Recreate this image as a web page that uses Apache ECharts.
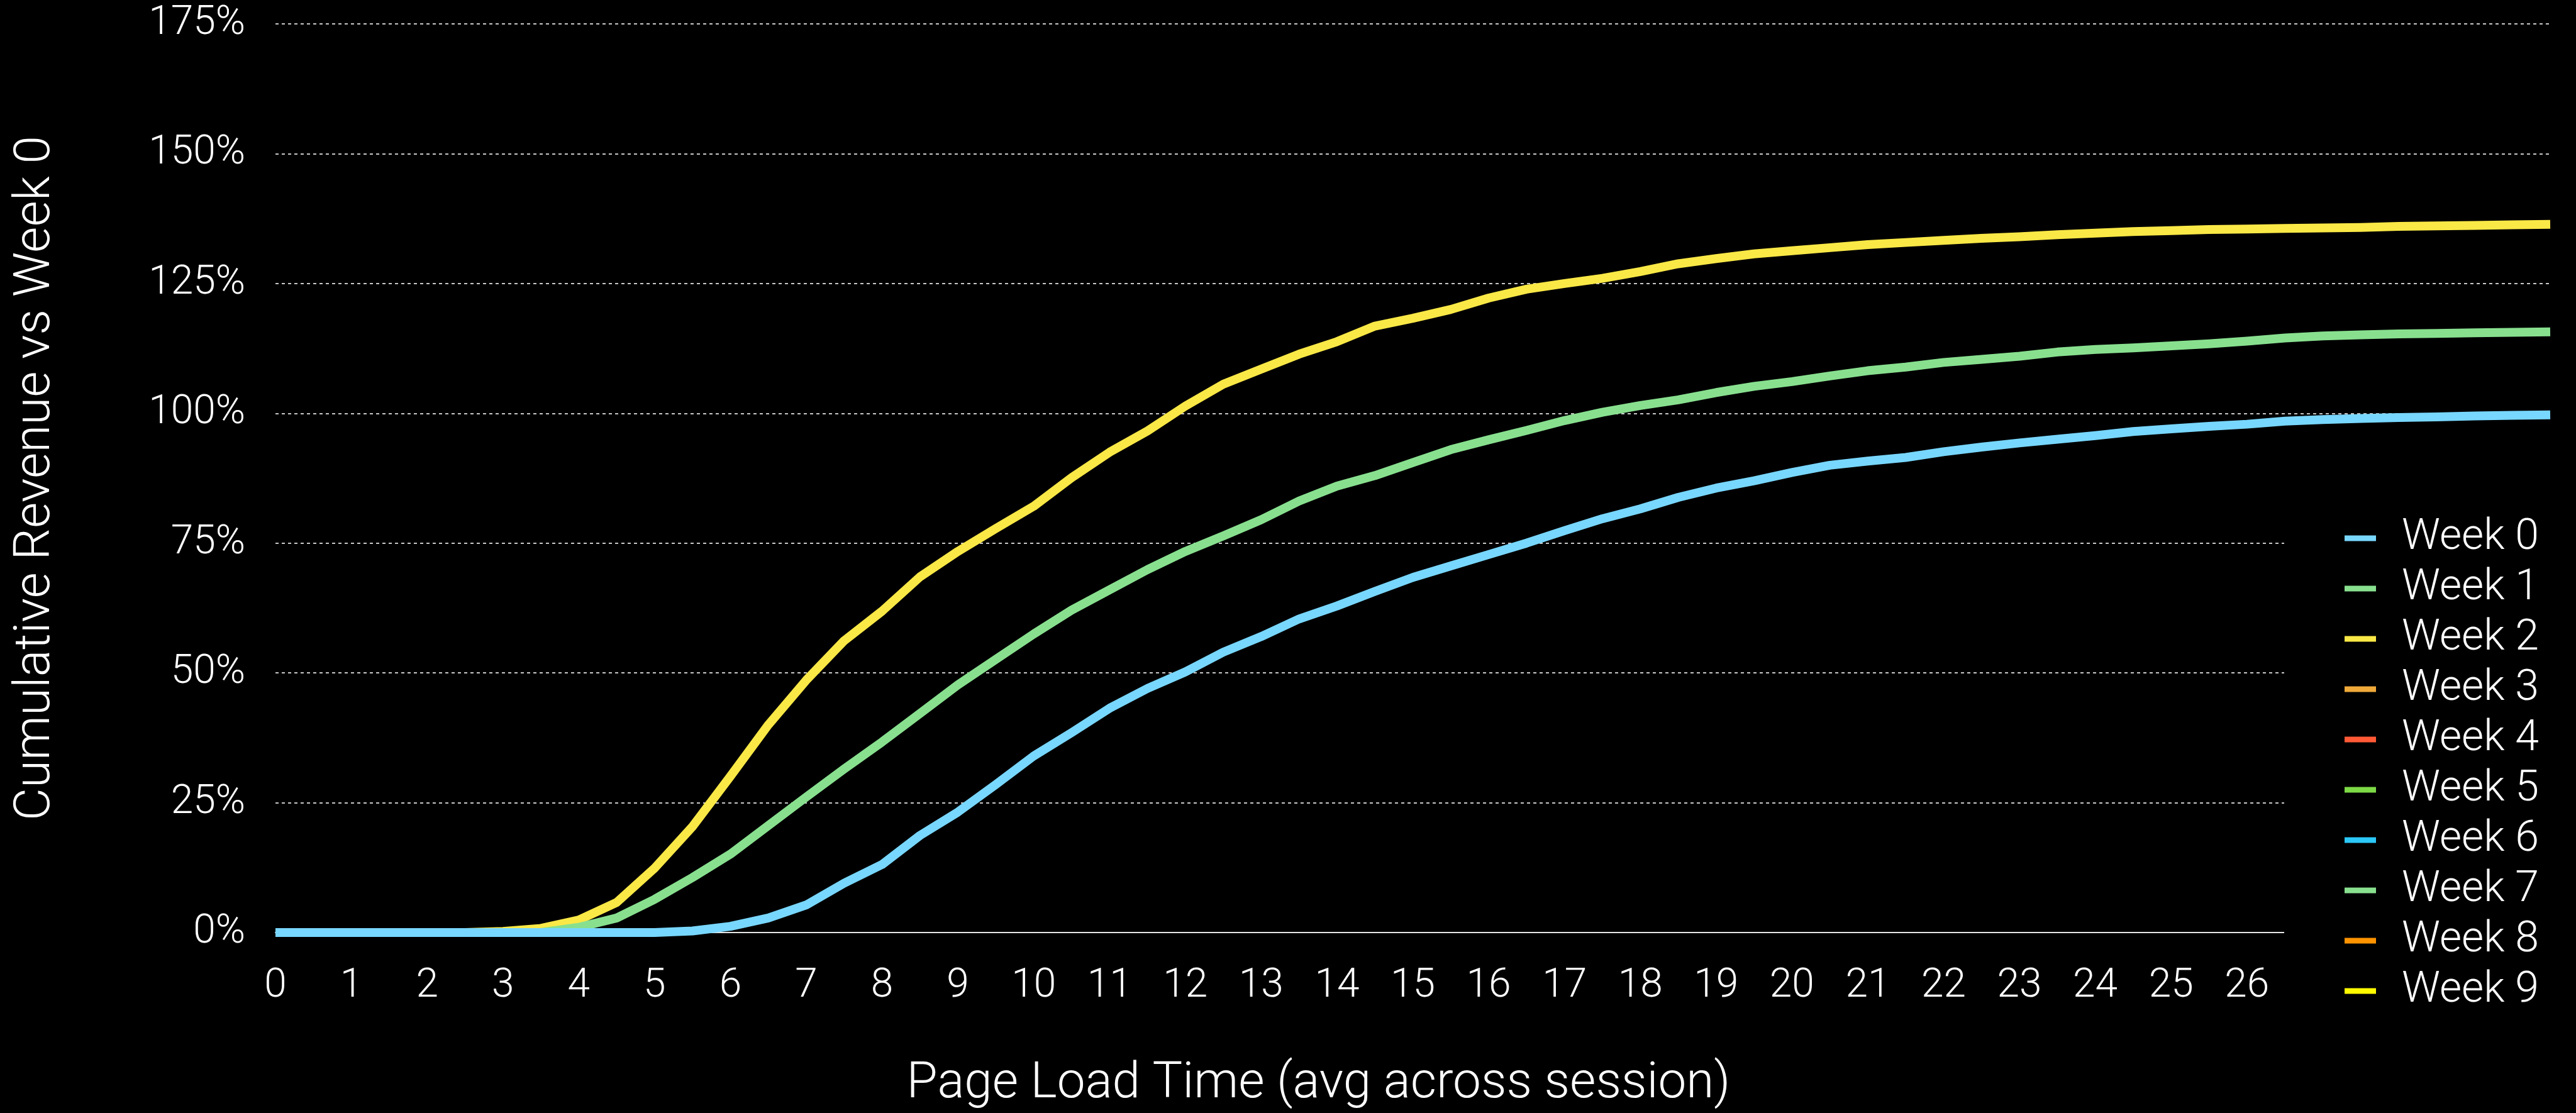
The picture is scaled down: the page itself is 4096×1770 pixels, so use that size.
<!DOCTYPE html>
<html>
<head>
<meta charset="utf-8">
<script src="https://cdn.jsdelivr.net/npm/echarts@6/dist/echarts.min.js"></script>
<style>
  html, body { margin: 0; padding: 0; background: #000; }
  #chart { width: 4096px; height: 1770px; }
</style>
</head>
<body>
<div id="chart"></div>
<script>
// ---- data ----
const xValues = [0,0.5,1,1.5,2,2.5,3,3.5,4,4.5,5,5.5,6,6.5,7,7.5,8,8.5,9,9.5,10,10.5,11,11.5,12,12.5,13,13.5,14,14.5,15,15.5,16,16.5,17,17.5,18,18.5,19,19.5,20,20.5,21,21.5,22,22.5,23,23.5,24,24.5,25,25.5,26,26.5,27,27.5,28,28.5,29,29.5,30];

const week0 = [0,0,0,0,0,0,0,0,0,0,0,0.3,1.2,2.8,5.3,9.5,13.1,18.7,23.2,28.5,34.0,38.5,43.2,47.0,50.2,54.0,57.0,60.4,62.9,65.7,68.4,70.6,72.8,75.0,77.4,79.7,81.6,83.8,85.6,87.0,88.6,90.0,90.8,91.5,92.6,93.5,94.3,95.0,95.7,96.5,97.0,97.5,97.9,98.5,98.8,99.0,99.2,99.3,99.5,99.6,99.7];
const week1 = [0,0,0,0,0,0,0,0,1.0,2.8,6.4,10.6,15.1,20.6,26.1,31.5,36.7,42.2,47.7,52.6,57.5,62.1,66.0,69.9,73.4,76.4,79.5,83.1,86.0,88.0,90.5,93.0,94.9,96.7,98.6,100.2,101.5,102.6,104.0,105.2,106.1,107.2,108.2,108.9,109.8,110.4,111.0,111.8,112.3,112.6,113.0,113.4,113.9,114.5,114.9,115.1,115.3,115.4,115.5,115.6,115.7];
const week2 = [0,0,0,0,0,0,0.2,0.8,2.4,5.8,12.4,20.4,30.1,40.0,48.6,56.2,61.9,68.5,73.4,77.8,82.1,87.6,92.5,96.6,101.4,105.6,108.5,111.4,113.8,116.8,118.3,120.0,122.2,123.9,125.0,126.0,127.3,128.8,129.8,130.7,131.3,131.9,132.5,132.9,133.3,133.7,134.0,134.4,134.7,135.0,135.2,135.4,135.5,135.6,135.7,135.8,136.0,136.1,136.2,136.3,136.4];
const week3 = [];
const week4 = [];
const week5 = [];
const week6 = [];
const week7 = [];
const week8 = [];
const week9 = [];

const seriesNames = ['Week 0','Week 1','Week 2','Week 3','Week 4','Week 5','Week 6','Week 7','Week 8','Week 9'];
const seriesValues = [week0, week1, week2, week3, week4, week5, week6, week7, week8, week9];
const seriesColors = ['#78D7FF','#88E08F','#FAE846','#EFA93A','#FF5A35','#7DD946','#2BC8F8','#88E08F','#FF9300','#FFFA00'];

const xTickLabels = ['0','1','2','3','4','5','6','7','8','9','10','11','12','13','14','15','16','17','18','19','20','21','22','23','24','25','26'];
const yTickLabels = ['0%','25%','50%','75%','100%','125%','150%','175%'];

const xTitle = 'Page Load Time (avg across session)';
const yTitle = 'Cumulative Revenue vs Week 0';

// ---- chart ----
const FONT = 'Roboto, "Liberation Sans", sans-serif';
const chart = echarts.init(document.getElementById('chart'), null, { renderer: 'canvas' });

const series = seriesNames.map((name, i) => ({
  name: name,
  type: 'line',
  data: seriesValues[i].map((v, k) => [xValues[k], v]),
  showSymbol: false,
  symbol: 'none',
  smooth: false,
  z: 20 - i,
  lineStyle: { width: 14, color: seriesColors[i], cap: 'butt', join: 'round' },
  itemStyle: { color: seriesColors[i] },
  animation: false
}));

chart.setOption({
  backgroundColor: '#000',
  animation: false,
  textStyle: { fontFamily: FONT, fontWeight: 300, color: '#fff' },
  grid: { left: 438, right: 41, top: 38, bottom: 285 },
  xAxis: {
    type: 'value',
    min: 0, max: 30, interval: 1,
    name: xTitle,
    nameLocation: 'middle',
    nameGap: 202,
    nameTextStyle: { fontSize: 80, color: '#fff', fontFamily: FONT, fontWeight: 300, padding: [0, 300, 0, 0] },
    axisLine: { show: true, lineStyle: { color: '#e6e6e6', width: 2 } },
    axisTick: { show: false },
    splitLine: { show: false },
    axisLabel: {
      color: '#fff', fontSize: 64, fontFamily: FONT, fontWeight: 300, margin: 54,
      formatter: v => (xTickLabels[v] !== undefined ? xTickLabels[v] : '')
    }
  },
  yAxis: {
    type: 'value',
    min: 0, max: 175, interval: 25,
    name: yTitle,
    nameLocation: 'middle',
    nameGap: 340,
    nameTextStyle: { fontSize: 80, color: '#fff', fontFamily: FONT, fontWeight: 300 },
    axisLine: { show: false },
    axisTick: { show: false },
    axisLabel: {
      color: '#fff', fontSize: 64, fontFamily: FONT, fontWeight: 300, margin: 48,
      formatter: v => yTickLabels[Math.round(v / 25)]
    },
    splitLine: { show: true, lineStyle: { color: '#c8c8c8', width: 2, type: [5, 5] } }
  },
  legend: {
    show: true,
    data: seriesNames,
    orient: 'vertical',
    left: 3632,
    top: 782,
    padding: [40, 120, 40, 96],
    backgroundColor: '#000',
    itemWidth: 50,
    itemHeight: 9,
    itemGap: 12,
    icon: 'rect',
    z: 50,
    selectedMode: false,
    textStyle: { color: '#fff', fontSize: 68, lineHeight: 66.5, fontFamily: FONT, fontWeight: 300, padding: [0, 0, 0, 36] }
  },
  series: series
});
</script>
</body>
</html>
